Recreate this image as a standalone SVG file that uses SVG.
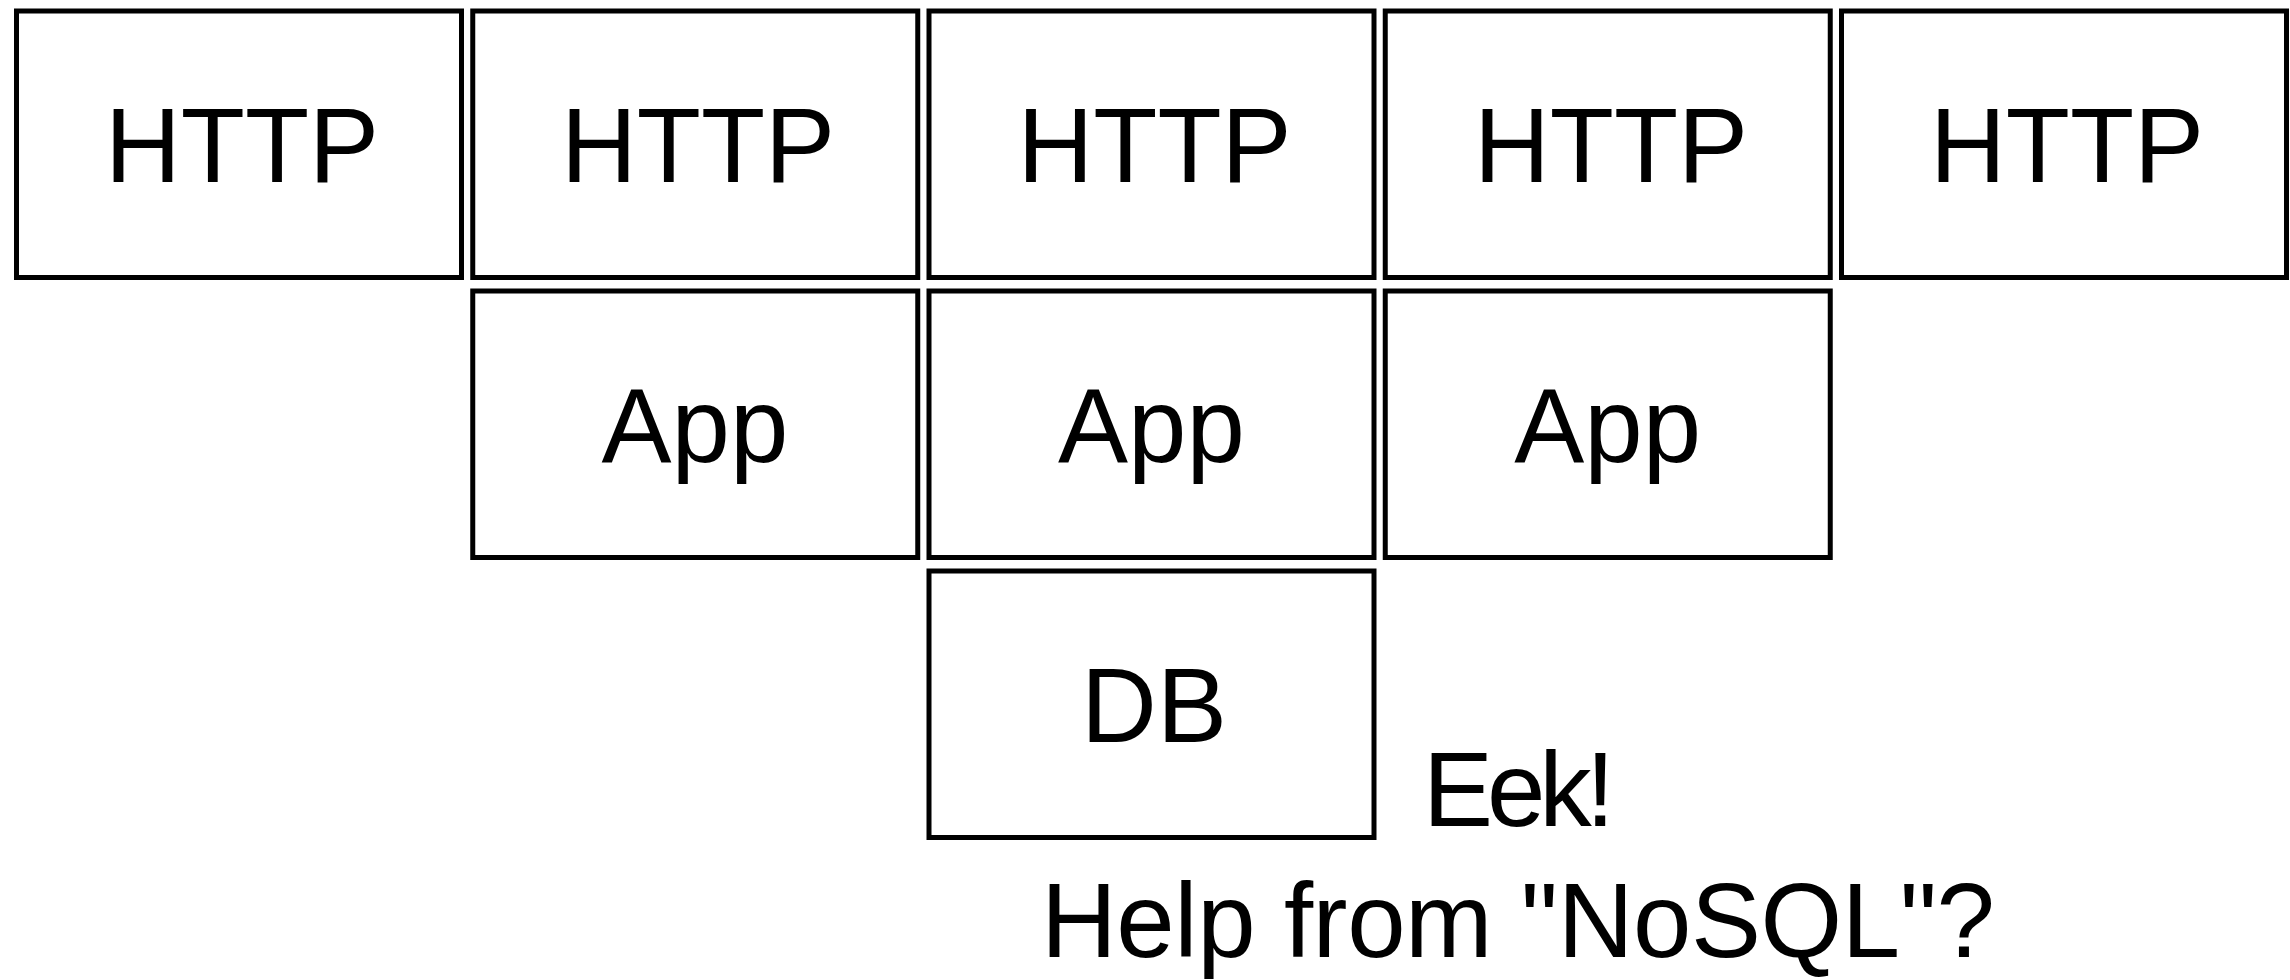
<svg xmlns="http://www.w3.org/2000/svg" width="2290" height="980" viewBox="0 0 2290 980">
  <style>
    .box { fill: #ffffff; stroke: #000000; stroke-width: 5; }
    .label { font-family: "Liberation Sans", Arial, sans-serif; font-size: 105px; fill: #000000; text-anchor: middle; }
    .note { font-family: "Liberation Sans", Arial, sans-serif; font-size: 105px; fill: #000000; }
  </style>
  <rect width="2290" height="980" fill="#ffffff"/>

  <!-- HTTP tier -->
  <g id="http1"><rect class="box" x="16.5" y="11" width="445" height="266.5"/><text class="label" x="242" y="181.7">HTTP</text></g>
  <g id="http2"><rect class="box" x="472.75" y="11" width="445" height="266.5"/><text class="label" x="698" y="181.7">HTTP</text></g>
  <g id="http3"><rect class="box" x="929" y="11" width="445" height="266.5"/><text class="label" x="1154.5" y="181.7">HTTP</text></g>
  <g id="http4"><rect class="box" x="1385.25" y="11" width="445" height="266.5"/><text class="label" x="1611" y="181.7">HTTP</text></g>
  <g id="http5"><rect class="box" x="1841.5" y="11" width="445" height="266.5"/><text class="label" x="2067" y="181.7">HTTP</text></g>

  <!-- App tier -->
  <g id="app1"><rect class="box" x="472.75" y="291" width="445" height="266.5"/><text class="label" x="695" y="461.7">App</text></g>
  <g id="app2"><rect class="box" x="929" y="291" width="445" height="266.5"/><text class="label" x="1151.5" y="461.7">App</text></g>
  <g id="app3"><rect class="box" x="1385.25" y="291" width="445" height="266.5"/><text class="label" x="1607.75" y="461.7">App</text></g>

  <!-- Database tier -->
  <g id="db"><rect class="box" x="929" y="571" width="445" height="266.5"/><text class="label" x="1154" y="741.7">DB</text></g>

  <!-- connectors (none) -->
  <g id="connectors"></g>

  <!-- captions -->
  <g id="captions">
    <text class="note" x="1423" y="826" textLength="192">Eek!</text>
    <text class="note" x="1041" y="956.7" textLength="954">Help from "NoSQL"?</text>
  </g>
</svg>
